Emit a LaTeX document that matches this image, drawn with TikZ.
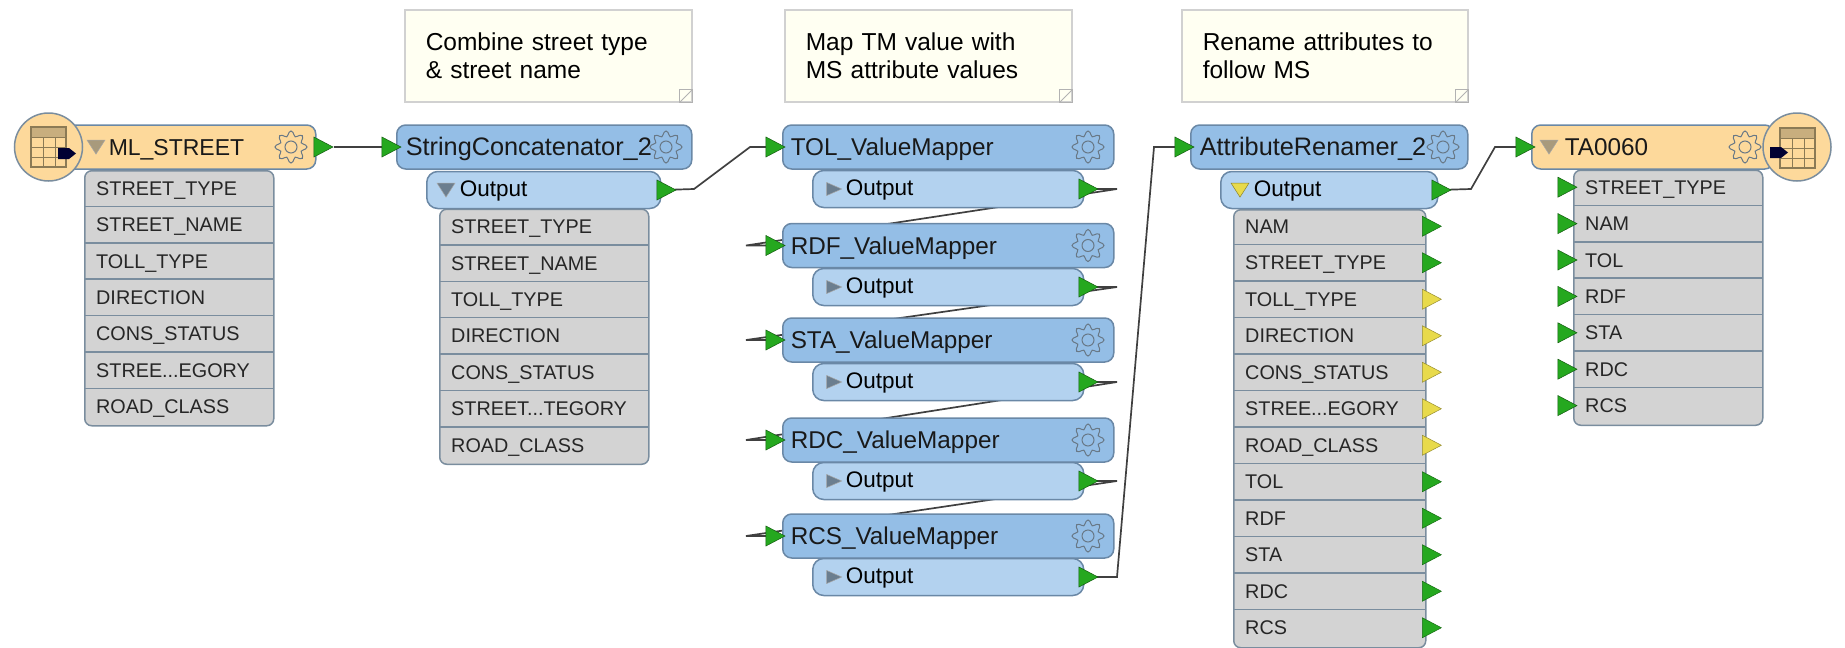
\documentclass[tikz,border=0pt]{standalone}
\usepackage{fontspec}
\setmainfont{Liberation Sans}
\usetikzlibrary{calc, backgrounds, shapes.geometric}
\definecolor{hdrblue}{HTML}{94BEE6}
\definecolor{outblue}{HTML}{B3D2EF}
\definecolor{hdrsand}{HTML}{FDD99B}
\definecolor{edgeblue}{HTML}{6A88A6}
\definecolor{rowgray}{HTML}{D3D3D3}
\definecolor{rowline}{HTML}{7A8D9E}
\definecolor{portgreen}{HTML}{25A81F}
\definecolor{portyellow}{HTML}{E8DA4B}
\definecolor{notefill}{HTML}{FFFFF2}
\definecolor{gridbrown}{HTML}{8B7A55}
\definecolor{gridband}{HTML}{C8AE7E}
\definecolor{marksand}{HTML}{A89A7C}
\newcommand{\cutname}{...}
\tikzset{
  hdrtext/.style={font=\fontsize{24.3}{28}\selectfont, text=black!90},
  hdr/.style={draw=edgeblue, line width=1.5pt, rounded corners=9pt, anchor=west, align=left, hdrtext,
    minimum height=44pt, text height=23pt, text depth=6pt, inner ysep=0pt},
  bluehdr/.style={hdr, fill=hdrblue, inner xsep=9pt},
  sandhdr/.style={hdr, fill=hdrsand, inner xsep=48pt},
  outhdr/.style={draw=edgeblue, line width=1.5pt, rounded corners=11pt, anchor=west, align=left, fill=outblue,
    font=\fontsize{22.5}{25}\selectfont, minimum height=37pt, text height=18pt, text depth=5pt, inner ysep=0pt},
  attrbox/.style={draw=rowline, line width=1.5pt, fill=rowgray, rounded corners=7pt, anchor=north west, inner sep=0pt},
  attrrow/.style={anchor=west, align=left, inner xsep=12pt, inner ysep=0pt, minimum height=36pt,
    font=\fontsize{19.8}{24}\selectfont, text=black!85, text height=16pt, text depth=2pt},
  rowsep/.style={draw=rowline, line width=1.5pt},
  port/.style={isosceles triangle, isosceles triangle stretches, draw=black!45!portgreen, line width=.5pt, fill=portgreen,
    minimum width=20pt, minimum height=19pt, inner sep=0pt},
  marktri/.style={isosceles triangle, isosceles triangle stretches, draw=black!35, line width=.5pt,
    minimum width=13pt, minimum height=15pt, inner sep=0pt},
  downtri/.style={marktri, shape border rotate=270, minimum width=18pt, minimum height=14pt},
  wire/.style={draw=black!75, line width=1.7pt},
  notebox/.style={draw=black!18, line width=1.5pt, fill=notefill, anchor=north west, align=left, inner xsep=21pt, inner ysep=0pt,
    font=\fontsize{24.5}{28}\selectfont, minimum height=92pt},
  fold/.style={draw=black!30, line width=1pt},
  iconball/.style={circle, draw=rowline, line width=1.5pt, fill=hdrsand, minimum size=68pt, inner sep=0pt},
  tablegrid/.pic={
    \fill[gridband] (0,0) rectangle (35,10);
    \draw[gridbrown, line width=1.3pt] (0,0) rectangle (35,40);
    \foreach \g in {10,20,30} \draw[gridbrown, line width=1pt] (0,\g) -- (35,\g);
    \foreach \g in {12,24} \draw[gridbrown, line width=1pt] (\g,10) -- (\g,40);
  },
  arrowtag/.pic={\fill[black!80!blue] (0,0) -- (11,0) -- (18,5.5) -- (11,11) -- (0,11) -- cycle;},
  gear/.pic={
    \draw[draw=rowline!85!black, line width=1pt] plot[smooth cycle, samples=48, domain=0:352.5] ({\x}:{13.5+2.5*cos(8*\x)});
    \draw[draw=rowline!85!black, line width=1pt] (0,0) circle (6);
  },
}
\begin{document}
\begin{tikzpicture}[x=1pt, y=-1pt]
  \useasboundingbox (0,0) rectangle (1845,648);

  % annotations
  \foreach \n/\x/\w/\t in {NoteStr/404/287/{Combine street type\\\& street name},
      NoteMap/784/287/{Map TM value with\\MS attribute values},
      NoteRen/1181/286/{Rename attributes to\\follow MS}} {
    \node[notebox, minimum width=\w pt, text width=\w pt-42pt] (\n) at (\x,9) {\t};
    \draw[fold] ($(\n.south east)+(-13,-13)$) rectangle (\n.south east);
    \draw[fold] ($(\n.south east)+(-13,0)$) -- ($(\n.south east)+(0,-13)$);
  }

  % source
  \node[sandhdr, text width=159pt, font=\fontsize{23}{28}\selectfont] (MlHdr) at (60,147) {ML\_STREET};
  \node[attrbox, minimum width=189pt, minimum height=255pt] (MlBox) at (84,170) {};
  \foreach \i/\t in {1/STREET\_TYPE, 2/STREET\_NAME, 3/TOLL\_TYPE, 4/DIRECTION, 5/CONS\_STATUS, 6/STREE\cutname EGORY, 7/ROAD\_CLASS} {
    \node[attrrow, text width=165pt] (MlRow\i) at (84,{170+(\i-0.5)*36.4}) {\t};
    \ifnum\i<7 \draw[rowsep] (MlRow\i.south west) -- (MlRow\i.south east); \fi
  }
  \node[iconball] (MlIcon) at (48.5,147) {};
  \pic at (31,127) {tablegrid};
  \pic at (58,148) {arrowtag};
  \node[downtri, fill=marksand] (MlMark) at (96,145) {};
  \pic at (291,147) {gear};
  \node[port] (MlOut) at (320,147) {};

  % concatenator
  \node[bluehdr, text width=277pt, font=\fontsize{25.3}{28}\selectfont] (StrHdr) at (396,147) {StringConcatenator\_2};
  \node[outhdr, inner xsep=33pt, text width=168pt] (StrOutHdr) at (426,190) {Output};
  \node[attrbox, minimum width=209pt, minimum height=255pt] (StrBox) at (439,208.5) {};
  \foreach \i/\t in {1/STREET\_TYPE, 2/STREET\_NAME, 3/TOLL\_TYPE, 4/DIRECTION, 5/CONS\_STATUS, 6/STREET\cutname TEGORY, 7/ROAD\_CLASS} {
    \node[attrrow, text width=185pt] (StrRow\i) at (439,{208.5+(\i-0.5)*36.4}) {\t};
    \ifnum\i<7 \draw[rowsep] (StrRow\i.south west) -- (StrRow\i.south east); \fi
  }
  \node[downtri, fill=black!40!outblue] (StrMark) at (446,188) {};
  \pic at (666,147) {gear};
  \node[port] (StrIn) at (388,147) {};
  \node[port] (StrOut) at (663,190) {};

  % value mappers
  \foreach \n/\y/\o/\t in {Tol/147/189/TOL, Rdf/245.5/287/RDF, Sta/340/382/STA, Rdc/440/481/RDC, Rcs/536/577/RCS} {
    \node[bluehdr, inner xsep=8pt, text width=315pt] (\n Hdr) at (782,\y) {\t\_ValueMapper};
    \node[outhdr, inner xsep=33pt, text width=205pt] (\n OutHdr) at (812,\o) {Output};
    \node[marktri, fill=black!40!outblue] (\n Mark) at (831,\o) {};
    \pic at (1088,\y) {gear};
    \node[port] (\n In) at (772,\y) {};
    \node[port] (\n Out) at (1085,\o) {};
  }

  % renamer
  \node[bluehdr, text width=259pt, font=\fontsize{25.3}{28}\selectfont] (RenHdr) at (1190,147) {AttributeRenamer\_2};
  \node[outhdr, inner xsep=33pt, text width=151pt] (RenOutHdr) at (1220,190) {Output};
  \node[attrbox, minimum width=192pt, minimum height=438pt] (RenBox) at (1233,209) {};
  \foreach \i/\t/\c in {1/NAM/portgreen, 2/STREET\_TYPE/portgreen, 3/TOLL\_TYPE/portyellow, 4/DIRECTION/portyellow,
      5/CONS\_STATUS/portyellow, 6/STREE\cutname EGORY/portyellow, 7/ROAD\_CLASS/portyellow, 8/TOL/portgreen,
      9/RDF/portgreen, 10/STA/portgreen, 11/RDC/portgreen, 12/RCS/portgreen} {
    \node[attrrow, text width=168pt] (RenRow\i) at (1233,{208+(\i-0.5)*36.5}) {\t};
    \ifnum\i<12 \draw[rowsep] (RenRow\i.south west) -- (RenRow\i.south east); \fi
    \node[port, fill=\c, draw=black!35!\c] (RenPort\i) at ($(RenRow\i.east)+(3,0)$) {};
  }
  \node[downtri, fill=portyellow, draw=black!40!portyellow] (RenMark) at (1240,188) {};
  \pic at (1443,147) {gear};
  \node[port] (RenIn) at (1181,147) {};
  \node[port] (RenOut) at (1438,190) {};

  % writer
  \node[sandhdr, inner xsep=33pt, text width=176pt] (TaHdr) at (1531,147) {TA0060};
  \node[attrbox, minimum width=189pt, minimum height=255pt] (TaBox) at (1573,169.5) {};
  \foreach \i/\t in {1/STREET\_TYPE, 2/NAM, 3/TOL, 4/RDF, 5/STA, 6/RDC, 7/RCS} {
    \node[attrrow, text width=165pt] (TaRow\i) at (1573,{169+(\i-0.5)*36.4}) {\t};
    \ifnum\i<7 \draw[rowsep] (TaRow\i.south west) -- (TaRow\i.south east); \fi
    \node[port] (TaPort\i) at ($(TaRow\i.west)+(-9,0)$) {};
  }
  \node[iconball] (TaIcon) at (1797,147) {};
  \pic at (1780,128) {tablegrid};
  \pic at (1770,147) {arrowtag};
  \node[downtri, fill=marksand] (TaMark) at (1549,145) {};
  \pic at (1745,147) {gear};
  \node[port] (TaIn) at (1522,147) {};

  % connections, behind the boxes
  \coordinate (StrBendA) at (694,189);
  \coordinate (StrBendB) at (750,147);
  \coordinate (RcsBendA) at (1117,577);
  \coordinate (RcsBendB) at (1154,147);
  \coordinate (RenBendA) at (1471,189);
  \coordinate (RenBendB) at (1495,147);
  \begin{scope}[on background layer]
    \draw[wire] (MlOut) -- (StrIn);
    \draw[wire] (StrOut.center) -- (StrBendA) -- (StrBendB) -- (TolIn.center);
    \foreach \a/\y/\b/\z in {Tol/189/Rdf/245.5, Rdf/287/Sta/340, Sta/382/Rdc/440, Rdc/481/Rcs/536} {
      \coordinate (\a BendA) at (1117,\y);
      \coordinate (\a BendB) at (746,\z);
      \draw[wire] (\a Out.center) -- (\a BendA) -- (\a BendB) -- (\b In.center);
    }
    \draw[wire] (RcsOut.center) -- (RcsBendA) -- (RcsBendB) -- (RenIn.center);
    \draw[wire] (RenOut.center) -- (RenBendA) -- (RenBendB) -- (TaIn.center);
  \end{scope}
\end{tikzpicture}
\end{document}
